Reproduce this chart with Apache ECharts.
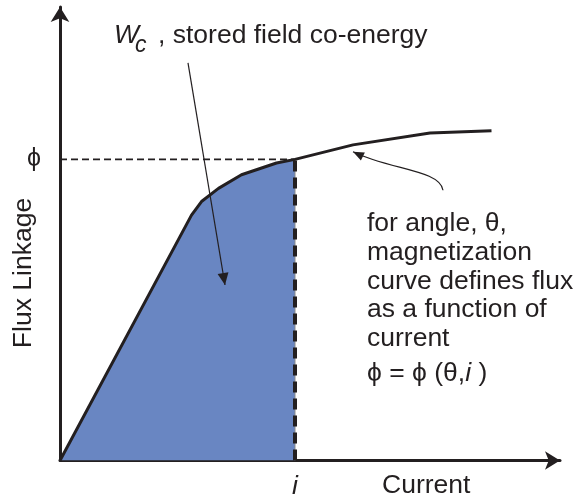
<!DOCTYPE html>
<html>
<head>
<meta charset="utf-8">
<script src="https://cdn.jsdelivr.net/npm/echarts@6/dist/echarts.min.js"></script>
<style>
html,body{margin:0;padding:0;background:#fff;}
#c{width:577px;height:501px;}
</style>
</head>
<body>
<div id="c"></div>
<script>
// magnetization curve (current vs flux linkage), in axis units (0..100)
const currentVals = [0, 26.3, 28.3, 31.7, 36.3, 43.3, 47.0, 58.6, 74.0, 86.3];
const fluxVals    = [0, 54.1, 57.1, 60.0, 63.0, 65.6, 66.4, 69.6, 72.2, 72.7];
const iOperating = 47.0;
const phiOperating = 66.4;
const xTickLabels = ['i'];
const yTickLabels = ['\u03D5'];
// annotation anchor points, in axis units
const wcArrow = [[25.6, 87.7], [33.0, 38.7]];
const curveArrow = [[76.6, 59.6], [76.0, 64.1], [66.0, 64.1], [58.6, 68.1]];

const INK = '#231f20';
const FONT = 'Liberation Sans, Arial, sans-serif';
const FS = 26.5;

const curve = currentVals.map((x, k) => [x, fluxVals[k]]);
const filled = curve.filter(p => p[0] <= iOperating);

const chart = echarts.init(document.getElementById('c'), null, {renderer: 'canvas'});

const option = {
  animation: false,
  backgroundColor: '#ffffff',
  grid: {left: 60, right: 17, top: 7, bottom: 40.5, containLabel: false},
  xAxis: {
    type: 'value', min: 0, max: 100,
    splitLine: {show: false},
    axisTick: {show: false},
    axisLine: {show: true, symbol: ['none', 'arrow'], symbolSize: [14, 15],
      lineStyle: {color: INK, width: 3}},
    axisLabel: {
      customValues: [iOperating],
      formatter: () => xTickLabels[0],
      fontStyle: 'italic', fontSize: FS, fontFamily: FONT, color: INK, margin: 13
    }
  },
  yAxis: {
    type: 'value', min: 0, max: 100,
    splitLine: {show: false},
    axisTick: {show: false},
    axisLine: {show: true, symbol: ['none', 'arrow'], symbolSize: [14, 15],
      lineStyle: {color: INK, width: 3}},
    axisLabel: {
      customValues: [phiOperating],
      formatter: () => yTickLabels[0],
      fontSize: 25, fontFamily: FONT, color: INK, margin: 19
    }
  },
  series: [
    {
      type: 'line', data: filled, symbol: 'none', silent: true, z: 1,
      lineStyle: {width: 0, opacity: 0},
      areaStyle: {color: '#6986c2', opacity: 1, origin: 'start'}
    },
    {
      type: 'line', data: [[iOperating, 0], [iOperating, phiOperating]],
      symbol: 'none', silent: true, z: 2,
      lineStyle: {color: '#8a8a8a', width: 1}
    },
    {
      type: 'line', data: [[iOperating, 0], [iOperating, phiOperating]],
      symbol: 'none', silent: true, z: 3,
      lineStyle: {color: INK, width: 4, type: [11, 6]}
    },
    {
      type: 'line', data: [[0, phiOperating], [iOperating, phiOperating]],
      symbol: 'none', silent: true, z: 3,
      lineStyle: {color: INK, width: 1.8, type: [7, 4]}
    },
    {
      type: 'line', data: curve, symbol: 'none', silent: true, z: 4,
      lineStyle: {color: INK, width: 3, join: 'round'}
    }
  ]
};
chart.setOption(option);

function px(p) { return chart.convertToPixel({gridIndex: 0}, p); }
function head(tip, from, len, hw) {
  const dx = tip[0] - from[0], dy = tip[1] - from[1];
  const L = Math.hypot(dx, dy); const ux = dx / L, uy = dy / L;
  const bx = tip[0] - ux * len, by = tip[1] - uy * len;
  return [[tip[0], tip[1]], [bx - uy * hw, by + ux * hw], [bx + uy * hw, by - ux * hw]];
}

const a0 = px(wcArrow[0]), a1 = px(wcArrow[1]);
const c0 = px(curveArrow[0]), c1 = px(curveArrow[1]), c2 = px(curveArrow[2]), c3 = px(curveArrow[3]);

const textStyle = (extra) => Object.assign({fill: INK, fontFamily: FONT, fontSize: FS}, extra);
const rightLines = ['for angle, \u03B8,', 'magnetization', 'curve defines flux', 'as a function of', 'current'];

const graphics = [
  {type: 'line', z: 10, shape: {x1: a0[0], y1: a0[1], x2: a1[0], y2: a1[1]}, style: {stroke: INK, lineWidth: 1.2}},
  {type: 'polygon', z: 10, shape: {points: head(a1, a0, 12, 5.5)}, style: {fill: INK}},
  {type: 'bezierCurve', z: 10, shape: {x1: c0[0], y1: c0[1], cpx1: c1[0], cpy1: c1[1], cpx2: c2[0], cpy2: c2[1], x2: c3[0], y2: c3[1]},
    style: {stroke: INK, lineWidth: 1.2, fill: null}},
  {type: 'polygon', z: 10, shape: {points: head(c3, c2, 11, 4.5)}, style: {fill: INK}},
  {type: 'text', z: 10, x: 114, y: 36, style: textStyle({text: 'W', fontStyle: 'italic', verticalAlign: 'middle'})},
  {type: 'text', z: 10, x: 135, y: 46, style: textStyle({text: 'c', fontStyle: 'italic', fontSize: 23, verticalAlign: 'middle'})},
  {type: 'text', z: 10, x: 158, y: 36, style: textStyle({text: ', stored field co-energy', verticalAlign: 'middle'})},
  {type: 'text', z: 10, x: 382, y: 486, style: textStyle({text: 'Current', verticalAlign: 'middle'})},
  {type: 'text', z: 10, x: 24, y: 273, rotation: Math.PI / 2,
    style: textStyle({text: 'Flux Linkage', align: 'center', verticalAlign: 'middle'})}
];
rightLines.forEach((t, k) => {
  graphics.push({type: 'text', z: 10, x: 367, y: 224 + 28.6 * k, style: textStyle({text: t, verticalAlign: 'middle'})});
});
graphics.push({type: 'text', z: 10, x: 367, y: 374, style: {
  text: '{n|\u03D5 = \u03D5 (\u03B8,}{it|i}{n| )}', verticalAlign: 'middle',
  rich: {n: {fontSize: FS, fontFamily: FONT, fill: INK, color: INK}, it: {fontSize: FS, fontFamily: FONT, fontStyle: 'italic', fill: INK, color: INK}}
}});
chart.setOption({graphic: graphics});
</script>
</body>
</html>
